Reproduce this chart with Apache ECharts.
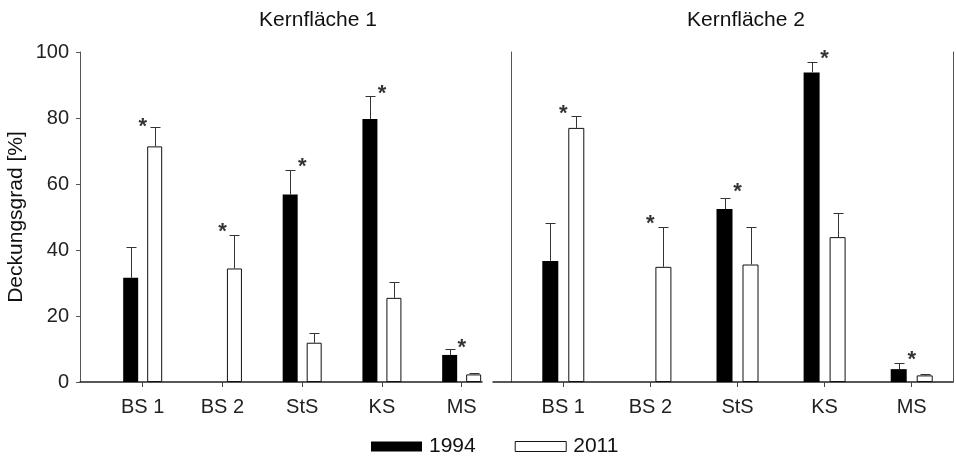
<!DOCTYPE html>
<html>
<head>
<meta charset="utf-8">
<script src="https://cdn.jsdelivr.net/npm/echarts@6/dist/echarts.min.js"></script>
</head>
<body style="margin:0;background:#fff;">
<div id="chart" style="width:956px;height:458px;"></div>
<script>
// categories and values
var categories = ['BS 1', 'BS 2', 'StS', 'KS', 'MS'];
var panelTitles = ['Kernfläche 1', 'Kernfläche 2'];
var yTicks = [0, 20, 40, 60, 80, 100];

// Kernfläche 1
var k1_1994 = [31.6, 0, 56.8, 79.7, 8.2];
var k1_1994_err = [9.2, null, 7.5, 7.1, 1.8];
var k1_2011 = [71.4, 34.4, 11.9, 25.5, 2.3];
var k1_2011_err = [5.8, 10.2, 3.0, 4.8, 0.3];
var k1_stars = [78.8, 47.0, 66.7, 88.7, 11.7];

// Kernfläche 2
var k2_1994 = [36.7, 0, 52.4, 93.8, 3.9];
var k2_1994_err = [11.4, null, 3.4, 3.3, 1.9];
var k2_2011 = [77.0, 34.9, 35.6, 43.9, 2.0];
var k2_2011_err = [3.6, 12.0, 11.5, 7.4, 0.3];
var k2_stars = [82.6, 49.4, 59.0, 99.3, 8.1];

var FONT = 'Liberation Sans';

function pts(arr) {
  return arr.map(function (v, i) { return [i + 1, v]; });
}
function errPts(vals, errs) {
  var out = [];
  vals.forEach(function (v, i) {
    if (errs[i] != null) out.push([i + 1, v, errs[i]]);
  });
  return out;
}
function errRender(shift) {
  return function (params, api) {
    var x = api.value(0), v = api.value(1), e = api.value(2);
    var b = api.coord([x, v]);
    var t = api.coord([x, v + e]);
    var cx = Math.round(b[0] + shift) + 0.5;
    var ty = Math.round(t[1]) + 0.5;
    return {
      type: 'group',
      children: [
        { type: 'line', shape: { x1: cx, y1: b[1], x2: cx, y2: ty }, style: { stroke: '#333', lineWidth: 1 } },
        { type: 'line', shape: { x1: cx - 5, y1: ty, x2: cx + 5, y2: ty }, style: { stroke: '#333', lineWidth: 1 } }
      ]
    };
  };
}

var blackStyle = { color: '#000' };
var whiteStyle = { color: '#fff', borderColor: '#111', borderWidth: 1 };

function xAxisFor(gridIndex, min, max) {
  return {
    type: 'value', gridIndex: gridIndex, min: min, max: max,
    splitLine: { show: false },
    axisLine: { show: true, onZero: false, lineStyle: { color: '#222', width: 1.5 } },
    axisTick: { show: true, customValues: [1, 2, 3, 4, 5], length: 5, lineStyle: { color: '#444' } },
    axisLabel: {
      customValues: [1, 2, 3, 4, 5], margin: 15,
      fontFamily: FONT, fontSize: 20, color: '#222',
      formatter: function (v) { return categories[v - 1] || ''; }
    }
  };
}

function panelSeries(gridIdx, yIdx, d94, e94, d11, e11, stars, barW, gapPct, shift) {
  return [
    { name: '1994', type: 'bar', xAxisIndex: gridIdx, yAxisIndex: yIdx, data: pts(d94),
      barWidth: barW, barGap: gapPct, itemStyle: blackStyle },
    { name: '2011', type: 'bar', xAxisIndex: gridIdx, yAxisIndex: yIdx, data: pts(d11),
      barWidth: barW, barGap: gapPct, itemStyle: whiteStyle },
    { name: 'err94', type: 'custom', xAxisIndex: gridIdx, yAxisIndex: yIdx, z: 3,
      data: errPts(d94, e94), renderItem: errRender(-shift) },
    { name: 'err11', type: 'custom', xAxisIndex: gridIdx, yAxisIndex: yIdx, z: 3,
      data: errPts(d11, e11), renderItem: errRender(shift) },
    { name: 'sig', type: 'scatter', xAxisIndex: gridIdx, yAxisIndex: yIdx, data: pts(stars),
      symbolSize: 0, silent: true,
      label: { show: true, position: 'inside', formatter: '*', offset: [0, 5],
        fontFamily: FONT, fontSize: 22, fontWeight: 'bold', color: '#000' } }
  ];
}

var option = {
  backgroundColor: '#fff',
  animation: false,
  title: [
    { text: panelTitles[0], left: 313, top: 5, textAlign: 'center',
      textStyle: { fontFamily: FONT, fontSize: 21, fontWeight: 'normal', color: '#111' } },
    { text: panelTitles[1], left: 741, top: 5, textAlign: 'center',
      textStyle: { fontFamily: FONT, fontSize: 21, fontWeight: 'normal', color: '#111' } }
  ],
  legend: {
    left: 366, top: 431, itemWidth: 51, itemHeight: 10, itemGap: 39,
    textStyle: { fontFamily: FONT, fontSize: 21, color: '#111', padding: [0, 0, 0, 2] },
    data: [
      { name: '1994', icon: 'rect', itemStyle: blackStyle },
      { name: '2011', icon: 'rect', itemStyle: whiteStyle }
    ]
  },
  grid: [
    { left: 80, top: 52, width: 402, height: 330 },
    { left: 493, top: 52, width: 460, height: 330 }
  ],
  xAxis: [
    xAxisFor(0, 0.214, 5.255),
    xAxisFor(1, 0.193, 5.474)
  ],
  yAxis: [
    { type: 'value', gridIndex: 0, min: yTicks[0], max: yTicks[yTicks.length - 1], interval: 20,
      name: 'Deckungsgrad [%]', nameLocation: 'middle', nameGap: 53,
      nameTextStyle: { fontFamily: FONT, fontSize: 21, color: '#111' },
      splitLine: { show: false },
      axisLine: { show: true, lineStyle: { color: '#555', width: 1 } },
      axisTick: { show: true, length: 4, lineStyle: { color: '#555' } },
      axisLabel: { margin: 11, fontFamily: FONT, fontSize: 20, color: '#222' } },
    { type: 'value', gridIndex: 1, min: 0, max: 100, interval: 20, offset: -18,
      splitLine: { show: false },
      axisLine: { show: true, lineStyle: { color: '#555', width: 1 } },
      axisTick: { show: false }, axisLabel: { show: false } },
    { type: 'value', gridIndex: 1, min: 0, max: 100, interval: 20, position: 'right',
      splitLine: { show: false },
      axisLine: { show: true, lineStyle: { color: '#555', width: 1 } },
      axisTick: { show: false }, axisLabel: { show: false } }
  ],
  series: [].concat(
    panelSeries(0, 0, k1_1994, k1_1994_err, k1_2011, k1_2011_err, k1_stars, 15, '60%', 12),
    panelSeries(1, 1, k2_1994, k2_1994_err, k2_2011, k2_2011_err, k2_stars, 16, '62.5%', 13)
  )
};

var chart = echarts.init(document.getElementById('chart'));
chart.setOption(option);
</script>
</body>
</html>
